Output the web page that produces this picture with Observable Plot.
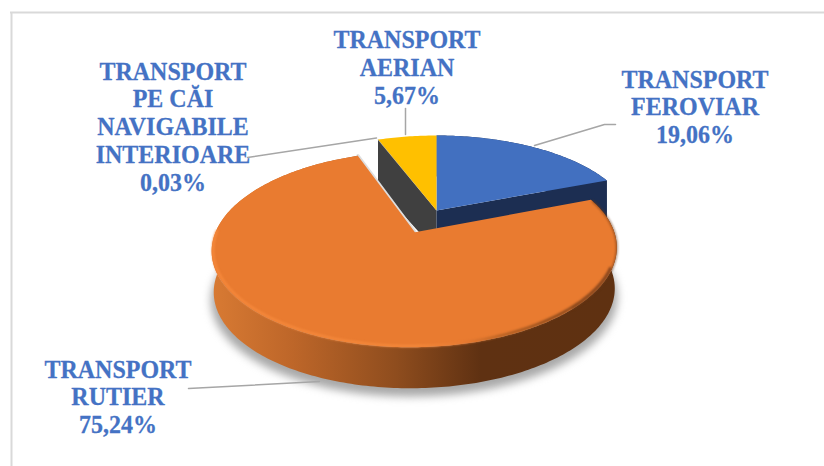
<!DOCTYPE html>
<html><head><meta charset="utf-8">
<script src="https://cdn.jsdelivr.net/npm/d3@7"></script>
<script src="https://cdn.jsdelivr.net/npm/@observablehq/plot@0.6"></script>
<style>html,body{margin:0;padding:0;background:#fff}svg{display:block}
g[aria-label="text"]{transform:scaleY(1.075)}</style>
</head><body><div id="chart"></div>
<script>
const categories = ["TRANSPORT\nFEROVIAR","TRANSPORT\nRUTIER","TRANSPORT\nPE CĂI\nNAVIGABILE\nINTERIOARE","TRANSPORT\nAERIAN"];
const shares = [19.06,75.24,0.03,5.67];
const shareLabels = ["19,06%","75,24%","0,03%","5,67%"];
const topColors = ["#4270c0","#e97b30","#a5a5a5","#ffc000"];
const labelX = [695,118,173,407];
const labelBase = [87,377,79,47.5];
const leaders = [
  [[534,145],[604,124],[615,124]],
  [[188,388],[319,381]],
  [[247,157],[376,137.5]],
  [[405,134],[405,108]]
];

const W=824,H=466,cx=436,cy=210,R=194,K=87.5,P=0.167,EXPLODE=0.262,DEPTH=41,STRETCH=1.075;
const total=d3.sum(shares);
let acc=0;
const slices=shares.map((s,i)=>{const a0=acc/total*2*Math.PI;acc+=s;const a1=acc/total*2*Math.PI;return {i,a0,a1,mid:(a0+a1)/2};});
function project(u,v,depth=0){
  const d=1-P*v;
  return {x:cx+u*R/d,y:cy+v*K/d+depth*DEPTH};
}
function rim(a,ex,depth=0,shrink=1){
  return project(ex[0]+Math.sin(a)*shrink,ex[1]-Math.cos(a),depth);
}
function arc(a0,a1,ex,depth=0,shrink=1){
  const n=Math.max(2,Math.ceil(Math.abs(a1-a0)*60));
  return d3.range(n+1).map(j=>rim(a0+(a1-a0)*j/n,ex,depth,shrink));
}
const poly=(pts,fill,extra={})=>Plot.line(pts,{x:"x",y:"y",fill,stroke:"none",...extra});

const blue=slices[0],orange=slices[1],nav=slices[2],yellow=slices[3];
const none=[0,0];
const oEx=[Math.sin(orange.mid)*EXPLODE,-Math.cos(orange.mid)*EXPLODE];
const centre=project(0,0), oCentre=project(oEx[0],oEx[1]);
const centreDown=project(0,0,1);
const wedge=(s)=>[centre,...arc(s.a0,s.a1,none)];
const face=(a,d)=>[centre,rim(a,none),rim(a,none,d),centreDown];
const blueSide=[...arc(blue.a0,blue.a1,none),...arc(blue.a1,blue.a0,none,1)];
const orangeSide=[...arc(orange.a0,orange.a1,oEx,0,0.987),...arc(orange.a1,orange.a0,oEx,1,0.977)];
const orangeTop=[oCentre,...arc(orange.a0,orange.a1,oEx,0,0.987)];
const shadow=arc(Math.PI*0.35,Math.PI*1.65,oEx,1.2,0.99);
const bevel=arc(Math.PI*0.62,Math.PI*1.5,oEx,-0.03,0.98);
const rightEdge=arc(orange.a0+0.02,Math.PI*0.75,oEx,0,0.987);
const slitLine=[rim(orange.a1,oEx,0,0.987),oCentre];

const defs=()=>{
  const d=d3.create("svg:defs");
  const grad=(id,stops)=>{
    const g=d.append("linearGradient").attr("id",id).attr("gradientUnits","userSpaceOnUse")
      .attr("x1",212).attr("x2",618).attr("y1",0).attr("y2",0);
    stops.forEach(([o,c])=>g.append("stop").attr("offset",o).attr("stop-color",c));
  };
  grad("orangeSideGrad",[[0,"#d87a33"],[0.2,"#bd6629"],[0.45,"#8f4d1e"],[0.66,"#5f3112"],[1,"#5f3111"]]);
  grad("bevelGrad",[[0,"#f78a3d"],[0.5,"#f58a3c"],[0.62,"#e67a32"],[0.72,"#a85a20"],[0.85,"#7a4018"],[1,"#70391a"]]);
  return d.node();
};

const labels=categories.map((c,i)=>({text:c+"\n"+shareLabels[i],x:labelX[i],y:(labelBase[i]-19)/STRETCH}));

const plot=Plot.plot({
  width:W,height:H,margin:0,
  x:{domain:[0,W],range:[0,W],axis:null},
  y:{domain:[0,H],range:[0,H],axis:null},
  style:{background:"#fff"},
  marks:[
    defs,
    Plot.ruleX([11],{y1:12,y2:H,stroke:"#d9d9d9",strokeWidth:2}),
    Plot.ruleY([12],{x1:10,x2:W,stroke:"#d9d9d9",strokeWidth:2}),
    poly(shadow,"#999999",{imageFilter:"blur(4px)",fillOpacity:0.85}),
    poly(face(yellow.a0,1.15),"#404040"),
    poly(blueSide,"#1c2e52"),
    poly(face(blue.a1,1),"#1c2e52"),
    poly(wedge(blue),topColors[0]),
    poly(wedge(yellow),topColors[3]),
    poly(wedge(nav),topColors[2]),
    Plot.line(slitLine,{x:"x",y:"y",stroke:"#dedede",strokeWidth:3.5}),
    poly(orangeSide,"url(#orangeSideGrad)"),
    poly(orangeTop,topColors[1]),
    Plot.line(rightEdge,{x:"x",y:"y",stroke:"#6b3714",strokeWidth:2,strokeOpacity:0.6,imageFilter:"blur(1px)"}),
    Plot.line(bevel,{x:"x",y:"y",stroke:"url(#bevelGrad)",strokeWidth:2.5,strokeOpacity:0.9,imageFilter:"blur(0.8px)"}),
    ...leaders.map(l=>Plot.line(l,{x:d=>d[0],y:d=>d[1],stroke:"#a6a6a6",strokeWidth:1.5})),
    Plot.text(labels,{x:"x",y:"y",text:"text",textAnchor:"middle",lineAnchor:"top",lineHeight:1.074,
      fontFamily:"Liberation Serif",fontWeight:"bold",fontSize:24,fill:"#4472c4",stroke:"#4472c4",strokeWidth:0.25})
  ]
});
document.getElementById("chart").append(plot);
</script></body></html>
